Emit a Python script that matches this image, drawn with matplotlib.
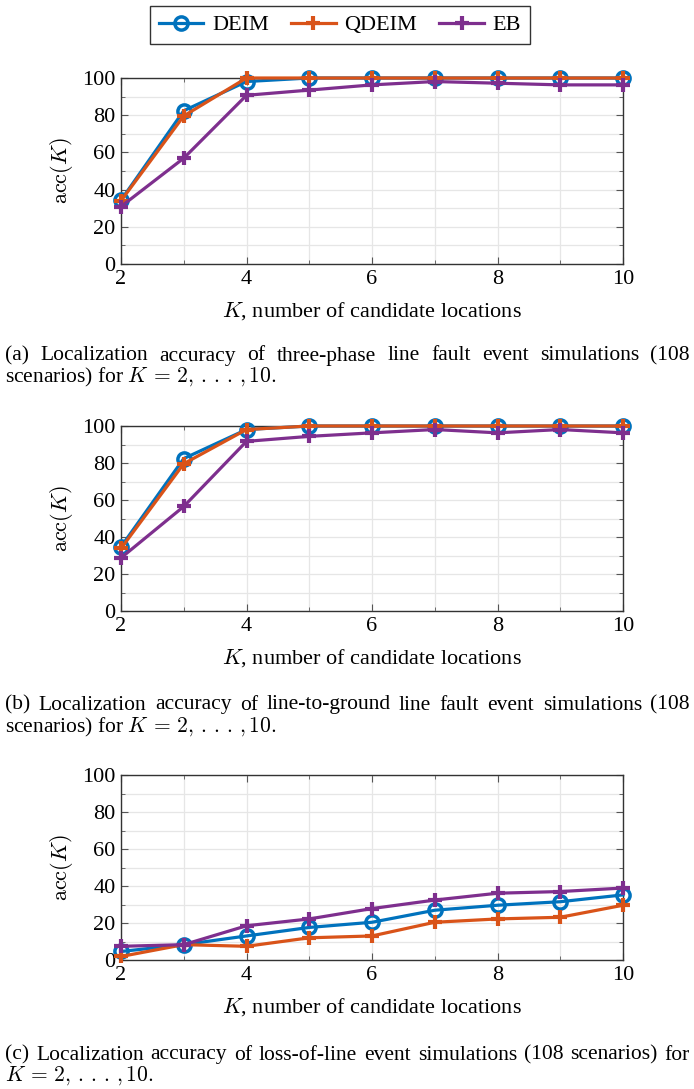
import matplotlib
matplotlib.use("Agg")
import matplotlib.pyplot as plt
from matplotlib.ticker import MultipleLocator

plt.rcParams['font.family'] = ['Liberation Serif', 'DejaVu Serif']
plt.rcParams['mathtext.fontset'] = 'cm'

K = [2, 3, 4, 5, 6, 7, 8, 9, 10]

# (a) three-phase line fault
deim_a = [34.3, 82.4, 98.1, 100, 100, 100, 100, 100, 100]
qdeim_a = [34.0, 79.6, 100, 100, 100, 100, 100, 100, 100]
eb_a = [30.9, 56.9, 90.7, 93.5, 96.3, 98.1, 97.2, 96.3, 96.3]

# (b) line-to-ground fault
deim_b = [34.7, 82.4, 98.1, 100, 100, 100, 100, 100, 100]
qdeim_b = [33.8, 79.6, 98.1, 100, 100, 100, 100, 100, 100]
eb_b = [28.7, 56.5, 91.7, 94.4, 96.3, 98.1, 96.3, 98.1, 96.3]

# (c) loss-of-line
deim_c = [4.6, 8.3, 13.0, 17.6, 20.4, 26.9, 29.6, 31.5, 35.2]
qdeim_c = [1.9, 8.3, 7.4, 12.0, 13.0, 20.4, 22.2, 23.1, 29.6]
eb_c = [7.4, 8.3, 18.5, 22.2, 27.8, 32.4, 36.1, 37.0, 38.9]

krange = r"$K\,=\,2,\,.\,.\,.\,,10.$"
captions = [
    ["(a) Localization accuracy of three-phase line fault event simulations (108",
     "scenarios) for " + krange],
    ["(b) Localization accuracy of line-to-ground line fault event simulations (108",
     "scenarios) for " + krange],
    ["(c) Localization accuracy of loss-of-line event simulations (108 scenarios) for",
     krange],
]

c_deim = '#0072BD'
c_qdeim = '#D95319'
c_eb = '#7E2F8E'

W, H = 694, 1089
fig = plt.figure(figsize=(W / 100, H / 100), dpi=100)
renderer = fig.canvas.get_renderer()

panels = [(78, 264, deim_a, qdeim_a, eb_a),
          (426, 611, deim_b, qdeim_b, eb_b),
          (775, 960, deim_c, qdeim_c, eb_c)]
cap_y = [(356, 377), (705, 727), (1055, 1076)]
cap_fs = 15.5


def justified(line, y, x0=5, x1=690):
    words = line.split()
    txts = [fig.text(0, y, w, fontsize=cap_fs, ha='left', va='center') for w in words]
    widths = [t.get_window_extent(renderer).width for t in txts]
    gap = (x1 - x0 - sum(widths)) / (len(words) - 1)
    x = x0
    for t, w in zip(txts, widths):
        t.set_x(x / W)
        x += w + gap


left, right = 121, 623
handles = None
for i, (top, bot, d, q, e) in enumerate(panels):
    ax = fig.add_axes([left / W, 1 - bot / H, (right - left) / W, (bot - top) / H])
    l1, = ax.plot(K, d, color=c_deim, lw=2.3, marker='o', ms=9.5, mfc='none',
                  mew=2.5, label='DEIM', zorder=3, clip_on=False)
    l2, = ax.plot(K, q, color=c_qdeim, lw=2.3, marker='+', ms=10, mew=3,
                  label='QDEIM', zorder=4, clip_on=False)
    l3, = ax.plot(K, e, color=c_eb, lw=2.3, marker='+', ms=10, mew=3,
                  label='EB', zorder=5, clip_on=False)
    handles = [l1, l2, l3]
    ax.set_xlim(2, 10)
    ax.set_ylim(0, 100)
    ax.xaxis.set_major_locator(MultipleLocator(2))
    ax.xaxis.set_minor_locator(MultipleLocator(1))
    ax.yaxis.set_major_locator(MultipleLocator(20))
    ax.yaxis.set_minor_locator(MultipleLocator(10))
    ax.grid(True, which='both', color='#e6e6e6', lw=0.9)
    ax.set_axisbelow(True)
    ax.tick_params(which='both', direction='in', top=True, right=True,
                   labelsize=16, color='#555555')
    ax.tick_params(which='major', length=5, pad=4)
    ax.tick_params(which='minor', length=3)
    for s in ax.spines.values():
        s.set_color('#333333')
        s.set_linewidth(1.0)
    ax.set_ylabel(r'$\mathrm{acc}(K)$', fontsize=16, labelpad=5)
    ax.set_xlabel(r'$K$, number of candidate locations', fontsize=16, labelpad=8)

    justified(captions[i][0], 1 - cap_y[i][0] / H)
    fig.text(5 / W, 1 - cap_y[i][1] / H, captions[i][1], fontsize=cap_fs,
             ha='left', va='center')

fig.legend(handles=handles, loc='center', bbox_to_anchor=(340 / W, 1 - 25 / H),
           ncol=3, fontsize=16, frameon=True, fancybox=False, edgecolor='black',
           handlelength=2.0, handletextpad=0.4, columnspacing=1.0, borderpad=0.4)

fig.savefig('out.png', dpi=100)
